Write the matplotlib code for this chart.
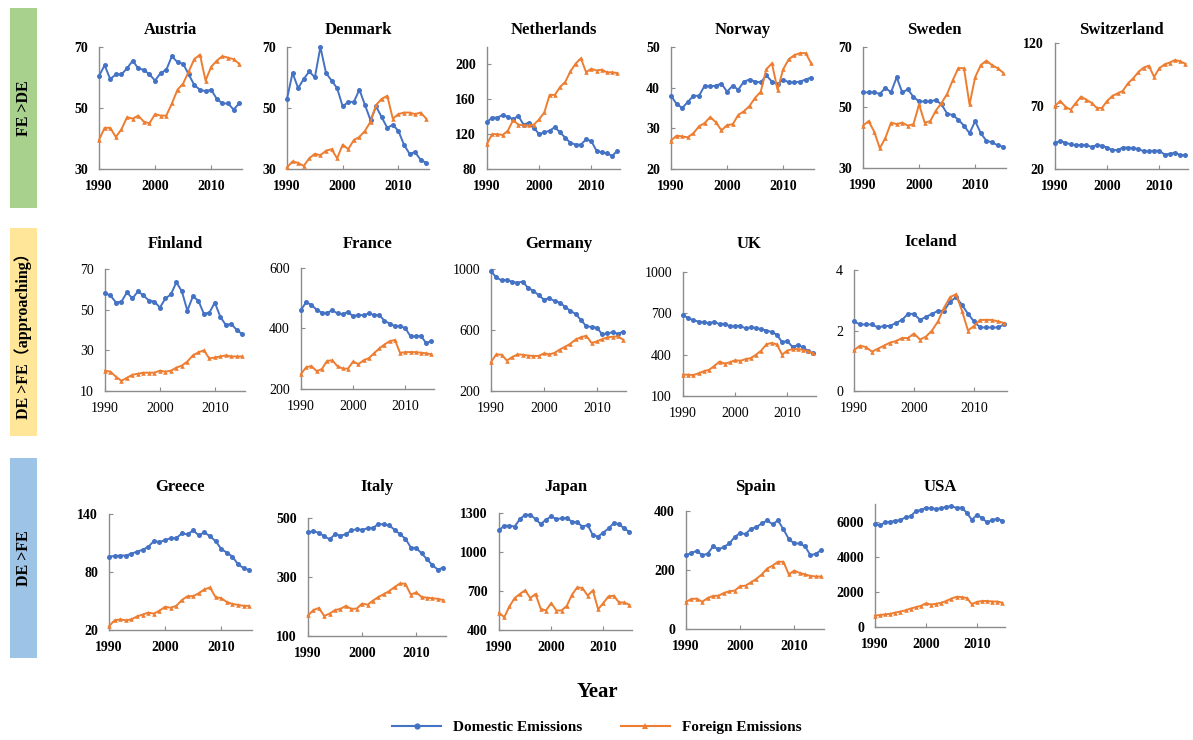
import matplotlib
matplotlib.use("Agg")
import matplotlib.pyplot as plt
from matplotlib.patches import Rectangle
from matplotlib.lines import Line2D

plt.rcParams["font.family"] = ["Liberation Serif", "DejaVu Serif"]
plt.rcParams["font.weight"] = "bold"

years = list(range(1990, 2016))

# ---- Domestic (DE) and foreign (FE) emissions per country ----
austria_de = [60.5, 64, 59.5, 61, 61, 63, 65.5, 63, 62.5, 61, 59, 61.5, 62.5, 67, 65, 64.5, 61, 57.5, 56, 55.5, 56, 53, 51.5, 51.5, 49.5, 51.5]
austria_fe = [39.5, 43.5, 43.5, 40.5, 43, 47, 46.5, 47.5, 45.5, 45, 48, 47.5, 47.5, 51.5, 56, 58, 62, 66, 67.5, 59, 63.5, 65.5, 67, 66.5, 66, 64.5]

denmark_de = [53, 61.5, 56.5, 59.5, 62, 60, 70, 61.5, 59, 56.5, 50.5, 52, 52, 56, 51, 46, 50.5, 47, 43.5, 44.5, 42.5, 38, 35, 35.5, 33, 32]
denmark_fe = [30.5, 32.5, 32, 31, 33.5, 35, 34.5, 36, 36.5, 33.5, 38, 36.5, 39.5, 40.5, 42.5, 45.5, 51, 53, 54, 46.5, 48, 48.5, 48.5, 48, 48.5, 46.5]

netherlands_de = [134, 139, 139, 142, 140, 137, 141, 131, 133, 127, 120, 122, 124, 128, 122, 116, 110, 108, 108, 114, 112, 101, 99, 98, 95, 101]
netherlands_fe = [109, 120, 120, 119, 124, 136, 131, 130, 130, 131, 137, 145, 165, 165, 174, 180, 192, 201, 207, 191, 195, 193, 194, 191, 191, 190]

norway_de = [38, 36, 35, 36.5, 38, 38, 40.5, 40.3, 40.5, 41, 39, 40.5, 39.5, 41.5, 42, 41.5, 41.3, 43, 41.5, 40.8, 42, 41.3, 41.3, 41.5, 42, 42.5]
norway_fe = [27, 28.2, 28, 27.8, 28.8, 30.5, 31.3, 32.8, 31.5, 29.5, 30.8, 31, 33.3, 34.2, 35.5, 37.5, 39, 44.5, 46, 39.5, 44.5, 47, 48, 48.5, 48.5, 46]

sweden_de = [55, 55, 55, 54.5, 56.5, 55, 60, 55, 56, 53.5, 52, 52, 52, 52.5, 51, 48, 47.5, 46, 44, 41.5, 45.5, 41.5, 39, 38.5, 37.5, 37]
sweden_fe = [44, 45.5, 42, 36.5, 40, 45, 44.5, 45, 44, 44.5, 51, 45, 45.5, 49, 51.5, 54.5, 59, 63, 63, 51, 60, 64, 65.5, 64, 63, 61.5]

switzerland_de = [41, 42, 41, 39.5, 39, 39, 39, 37.5, 39, 38.5, 37, 35, 35, 37, 37, 36.5, 36, 34, 34, 34.5, 34.5, 31.5, 32, 33, 31, 31]
switzerland_fe = [70, 74, 69.5, 67, 72.5, 77.5, 75, 72.5, 68.5, 68.5, 74, 78, 80, 82, 88, 92, 97, 100.5, 102, 93, 100, 103, 104.5, 106.5, 105.5, 103.5]

finland_de = [58, 57, 53.5, 54, 58.5, 55.5, 59, 57, 54.5, 54, 51, 55.5, 57.5, 63.5, 59, 49.5, 56.5, 54.5, 48, 48.5, 53.5, 46.5, 42.5, 43, 40, 38]
finland_fe = [20, 19.5, 17, 15, 16.5, 18, 18.5, 19, 19, 19, 20, 19.5, 20, 21.5, 22.5, 24.5, 27.5, 29, 30, 26, 26.5, 27, 27.5, 27, 27, 27]

france_de = [462, 487, 478, 462, 452, 452, 460, 450, 447, 455, 440, 446, 443, 450, 445, 444, 426, 416, 408, 408, 401, 374, 374, 375, 352, 358]
france_fe = [250, 272, 276, 259, 266, 293, 295, 275, 268, 267, 291, 282, 295, 302, 318, 334, 347, 358, 362, 319, 322, 322, 322, 320, 318, 315]

germany_de = [985, 945, 925, 930, 915, 910, 918, 875, 858, 828, 800, 808, 790, 780, 752, 725, 705, 665, 625, 620, 615, 572, 578, 585, 575, 590]
germany_fe = [390, 440, 438, 400, 422, 440, 438, 432, 430, 430, 447, 440, 450, 472, 490, 510, 538, 553, 562, 515, 525, 540, 552, 556, 558, 535]

uk_de = [688, 665, 650, 640, 635, 628, 640, 620, 625, 605, 608, 610, 590, 598, 595, 585, 575, 565, 545, 490, 500, 455, 470, 455, 425, 410]
uk_fe = [255, 255, 252, 265, 280, 290, 318, 350, 335, 345, 360, 355, 368, 375, 400, 430, 475, 485, 475, 400, 430, 440, 440, 435, 425, 410]

iceland_de = [2.3, 2.2, 2.2, 2.2, 2.1, 2.15, 2.15, 2.25, 2.35, 2.55, 2.55, 2.35, 2.45, 2.55, 2.65, 2.65, 2.95, 3.1, 2.85, 2.55, 2.3, 2.1, 2.1, 2.1, 2.1, 2.2]
iceland_fe = [1.35, 1.5, 1.45, 1.3, 1.4, 1.5, 1.6, 1.65, 1.75, 1.75, 1.9, 1.7, 1.8, 2.0, 2.3, 2.75, 3.1, 3.2, 2.65, 2.0, 2.15, 2.35, 2.35, 2.35, 2.3, 2.25]

greece_de = [96, 96.5, 97, 97, 99, 101, 103, 106, 112, 111, 113, 115, 115, 120, 119, 123, 118, 121, 117, 112, 104, 100, 96, 88, 84, 82]
greece_fe = [24, 30, 31, 30, 31, 34, 36, 38, 37, 40, 44, 43, 45, 51, 55, 55, 58, 62, 64, 54, 53, 49, 47, 46, 45, 45]

italy_de = [452, 455, 450, 438, 428, 445, 440, 445, 458, 462, 460, 465, 466, 480, 478, 475, 460, 445, 430, 400, 398, 380, 360, 340, 325, 332]
italy_fe = [170, 188, 195, 168, 176, 188, 192, 202, 192, 193, 210, 206, 220, 232, 242, 252, 266, 278, 277, 240, 248, 232, 230, 228, 226, 222]

japan_de = [1168, 1202, 1202, 1196, 1253, 1287, 1287, 1253, 1215, 1248, 1274, 1253, 1259, 1261, 1233, 1228, 1196, 1207, 1129, 1119, 1150, 1181, 1222, 1215, 1181, 1155]
japan_fe = [534, 498, 581, 646, 677, 705, 646, 677, 563, 550, 607, 550, 550, 586, 672, 728, 723, 664, 705, 560, 607, 659, 664, 612, 612, 594]

spain_de = [250, 258, 265, 250, 255, 280, 270, 278, 290, 312, 325, 322, 340, 345, 358, 368, 355, 368, 338, 305, 290, 290, 280, 250, 255, 268]
spain_fe = [92, 102, 103, 92, 105, 112, 113, 122, 128, 130, 145, 147, 158, 170, 185, 205, 215, 228, 228, 185, 198, 190, 185, 180, 178, 178]

usa_de = [5850, 5800, 5950, 5980, 6050, 6080, 6250, 6300, 6600, 6650, 6800, 6750, 6720, 6750, 6850, 6870, 6780, 6800, 6500, 6100, 6380, 6200, 5950, 6100, 6150, 6050]
usa_fe = [650, 680, 720, 750, 820, 880, 950, 1050, 1130, 1200, 1350, 1280, 1320, 1380, 1480, 1620, 1720, 1700, 1650, 1300, 1430, 1480, 1480, 1450, 1450, 1380]

# ---- Panel layout: name, series, y-axis range, y ticks, frame in pixels (left, top, right, bottom),
#      title centre height in pixels, tick label weight ----
panels = [
    ("Austria", austria_de, austria_fe, (30, 70), [30, 50, 70], (99, 47, 242, 169), 30, "bold"),
    ("Denmark", denmark_de, denmark_fe, (30, 70), [30, 50, 70], (287, 47, 429, 169), 30, "bold"),
    ("Netherlands", netherlands_de, netherlands_fe, (80, 220), [80, 120, 160, 200], (487, 47, 620, 169), 30, "bold"),
    ("Norway", norway_de, norway_fe, (20, 50), [20, 30, 40, 50], (671, 47, 814, 169), 30, "bold"),
    ("Sweden", sweden_de, sweden_fe, (30, 70), [30, 50, 70], (863, 47, 1006, 168), 30, "bold"),
    ("Switzerland", switzerland_de, switzerland_fe, (20, 120), [20, 70, 120], (1055, 43, 1188, 169), 30, "bold"),
    ("Finland", finland_de, finland_fe, (10, 70), [10, 30, 50, 70], (105, 269, 245, 391), 244, "normal"),
    ("France", france_de, france_fe, (200, 600), [200, 400, 600], (301, 268, 434, 389), 244, "normal"),
    ("Germany", germany_de, germany_fe, (200, 1000), [200, 600, 1000], (491, 269, 626, 391), 244, "normal"),
    ("UK", uk_de, uk_fe, (100, 1000), [100, 400, 700, 1000], (683, 272, 816, 396), 244, "normal"),
    ("Iceland", iceland_de, iceland_fe, (0, 4), [0, 2, 4], (854, 270, 1007, 391), 242, "normal"),
    ("Greece", greece_de, greece_fe, (20, 140), [20, 80, 140], (109, 514, 252, 630), 487, "bold"),
    ("Italy", italy_de, italy_fe, (100, 500), [100, 300, 500], (308, 518, 446, 636), 487, "bold"),
    ("Japan", japan_de, japan_fe, (400, 1300), [400, 700, 1000, 1300], (499, 513, 632, 630), 487, "bold"),
    ("Spain", spain_de, spain_fe, (0, 400), [0, 200, 400], (686, 511, 824, 629), 487, "bold"),
    ("USA", usa_de, usa_fe, (0, 7000), [0, 2000, 4000, 6000], (875, 504, 1005, 627), 487, "bold"),
]

W, H = 1193, 740
DE_COLOR = "#4472C4"
FE_COLOR = "#ED7D31"
AXIS_COLOR = "#8C8C8C"

fig = plt.figure(figsize=(W / 100, H / 100), dpi=100)
fig.patch.set_facecolor("white")


def px_rect(l, t, r, b):
    return [l / W, 1 - b / H, (r - l) / W, (b - t) / H]


for name, de, fe, ylim, yticks, frame, title_y, tick_weight in panels:
    ax = fig.add_axes(px_rect(*frame))
    ax.plot(years, de, color=DE_COLOR, lw=1.4, marker="o", ms=3.6,
            markeredgewidth=0, clip_on=False, zorder=3)
    ax.plot(years, fe, color=FE_COLOR, lw=1.4, marker="^", ms=3.3,
            markeredgewidth=0, clip_on=False, zorder=3)
    ax.set_xlim(1990, 2015.5)
    ax.set_ylim(*ylim)
    ax.set_xticks([1990, 2000, 2010])
    ax.set_yticks(yticks)
    for s in ("top", "right"):
        ax.spines[s].set_visible(False)
    for s in ("left", "bottom"):
        ax.spines[s].set_color(AXIS_COLOR)
        ax.spines[s].set_linewidth(1.0)
    ax.tick_params(axis="both", direction="in", length=3, width=0.8,
                   color=AXIS_COLOR, labelsize=10)
    ax.tick_params(axis="x", pad=8)
    ax.tick_params(axis="y", pad=8)
    for lab in ax.get_xticklabels() + ax.get_yticklabels():
        lab.set_fontweight(tick_weight)
    l, t, r, b = frame
    fig.text((l + r) / 2 / W, 1 - title_y / H, name, ha="center", va="center",
             fontsize=12, fontweight="bold")
    ax.patch.set_alpha(0)

# ---- Group labels on the left ----
groups = [
    ("FE >DE", "#A9D18E", 8, 208),
    ("DE >FE\uff08approaching\uff09", "#FFE699", 228, 436),
    ("DE >FE", "#9DC3E6", 458, 658),
]
for text, color, top, bottom in groups:
    fig.patches.append(Rectangle((10 / W, 1 - bottom / H), 27 / W, (bottom - top) / H,
                                 transform=fig.transFigure, facecolor=color,
                                 edgecolor="none", zorder=0))
    fig.text(23.5 / W, 1 - (top + bottom) / 2 / H, text, rotation=90,
             ha="center", va="center", fontsize=11.5, fontweight="bold",
             family=["Liberation Serif", "Noto Sans CJK SC", "DejaVu Sans"])

# ---- Shared x label and legend ----
fig.text(597 / W, 1 - 692 / H, "Year", ha="center", va="center",
         fontsize=15, fontweight="bold")

handles = [
    Line2D([], [], color=DE_COLOR, lw=1.5, marker="o", ms=4.5, markeredgewidth=0),
    Line2D([], [], color=FE_COLOR, lw=1.5, marker="^", ms=4.5, markeredgewidth=0),
]
fig.legend(handles, ["Domestic Emissions", "Foreign Emissions"], ncol=2,
           loc="center", bbox_to_anchor=(597 / W, 1 - 727 / H), frameon=False,
           prop={"family": "Liberation Serif", "weight": "bold", "size": 11},
           handlelength=3.2, columnspacing=2.5, handletextpad=0.8)

fig.savefig("out.png", dpi=100, facecolor="white")
